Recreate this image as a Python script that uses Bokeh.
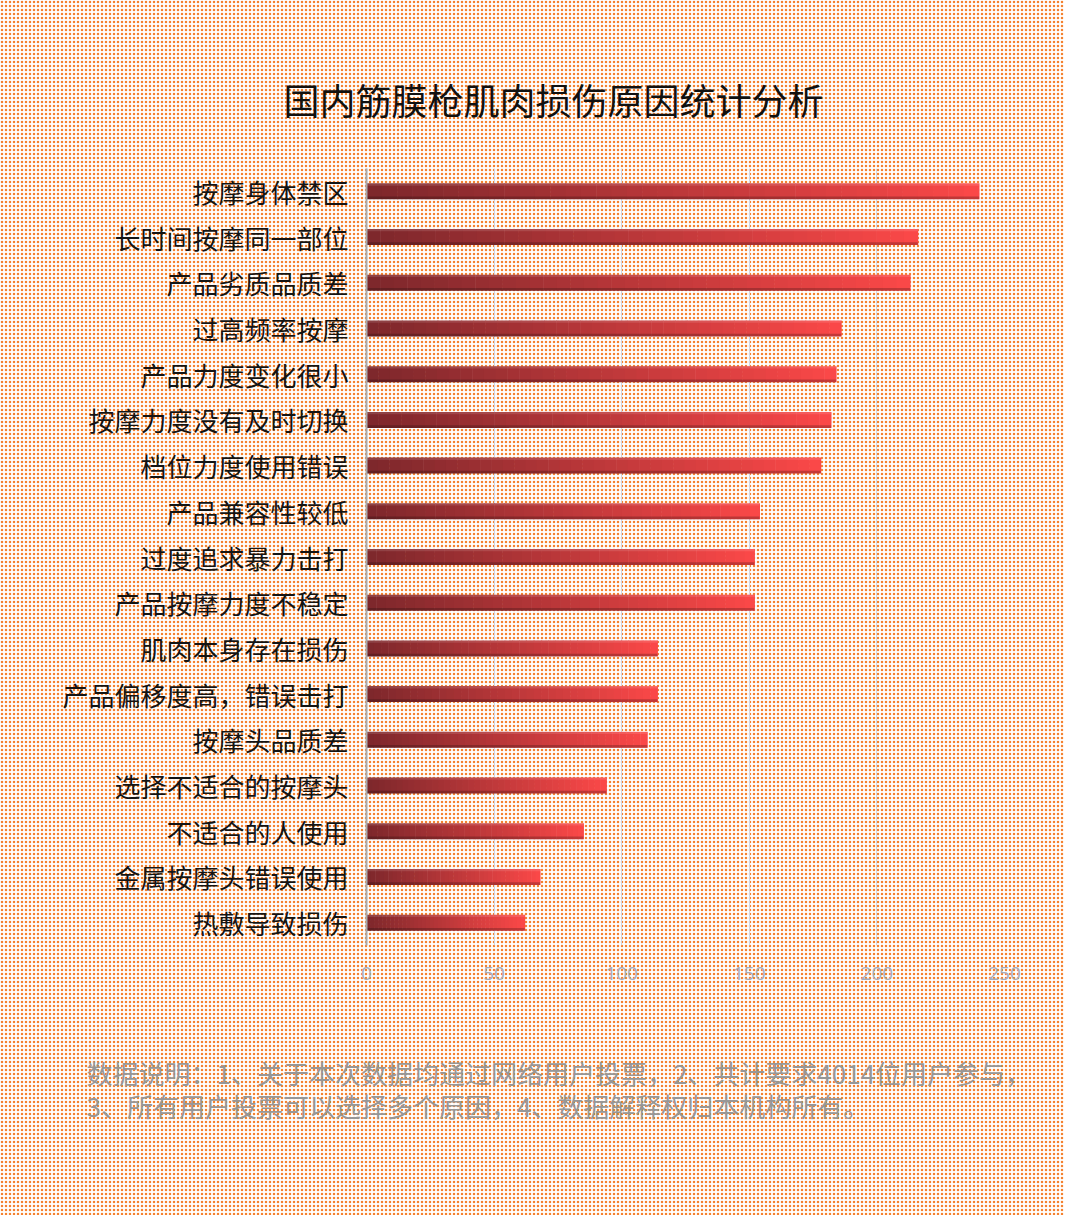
from bokeh.plotting import figure
from bokeh.models import FactorRange, Range1d, Title, FixedTicker, ColumnDataSource
from bokeh.transform import dodge
from bokeh.embed import file_html
from bokeh.resources import INLINE

causes = ["按摩身体禁区", "长时间按摩同一部位", "产品劣质品质差", "过高频率按摩", "产品力度变化很小",
          "按摩力度没有及时切换", "档位力度使用错误", "产品兼容性较低", "过度追求暴力击打",
          "产品按摩力度不稳定", "肌肉本身存在损伤", "产品偏移度高，错误击打", "按摩头品质差",
          "选择不适合的按摩头", "不适合的人使用", "金属按摩头错误使用", "热敷导致损伤"]
counts = [240, 216, 213, 186, 184, 182, 178, 154, 152, 152, 114, 114, 110, 94, 85, 68, 62]
x_ticks = [0, 50, 100, 150, 200, 250]

title_text = "国内筋膜枪肌肉损伤原因统计分析"
note_lines = ["数据说明：1、关于本次数据均通过网络用户投票，2、共计要求4014位用户参与，",
              "3、所有用户投票可以选择多个原因，4、数据解释权归本机构所有。"]

CJK = "Noto Sans CJK SC"

p = figure(width=1064, height=1215, output_backend="svg", toolbar_location=None,
           y_range=FactorRange(factors=causes[::-1]), x_range=Range1d(0, 250),
           min_border_left=366, min_border_right=60, min_border_top=168, min_border_bottom=270)

# dotted orange paper behind everything
p.background_fill_color = None
p.border_fill_color = None
p.outline_line_color = None
p.styles = {
    "background-color": "white",
    "background-image": "radial-gradient(circle at 2px 2px, #f4822f 0px, #f4822f 0.75px, rgba(244,130,47,0.3) 1.25px, rgba(255,255,255,0) 1.75px)",
    "background-size": "4px 4px",
}

# bars drawn as slices so the colour runs dark -> bright along each bar
steps = 40
dark = (126, 40, 44)
bright = (250, 72, 72)
seg_y, seg_l, seg_r, seg_c = [], [], [], []
for cause, n in zip(causes, counts):
    for i in range(steps):
        t = i / (steps - 1)
        r, g, b = [int(d + (e - d) * t) for d, e in zip(dark, bright)]
        seg_y.append(cause)
        seg_l.append(n * i / steps)
        seg_r.append(n * (i + 1) / steps + 0.2)
        seg_c.append("#%02x%02x%02x" % (r, g, b))
p.hbar(y=seg_y, left=seg_l, right=seg_r, height=0.35, fill_color=seg_c, line_color=None)

src = ColumnDataSource(dict(cause=causes, n=counts))
p.hbar(y=dodge("cause", -0.145, range=p.y_range), left=0, right="n", height=0.06, source=src,
       fill_color="black", fill_alpha=0.22, line_color=None)
p.hbar(y=dodge("cause", 0.15, range=p.y_range), left=0, right="n", height=0.05, source=src,
       fill_color="white", fill_alpha=0.12, line_color=None)

p.xaxis.ticker = FixedTicker(ticks=x_ticks)
p.xaxis.axis_line_color = None
p.xaxis.major_tick_line_color = None
p.xaxis.minor_tick_line_color = None
p.xaxis.major_label_text_font = "Open Sans"
p.xaxis.major_label_text_font_size = "19px"
p.xaxis.major_label_text_color = "#a4adbe"
p.xaxis.major_label_standoff = 15

p.yaxis.axis_line_color = "#a9a9a9"
p.yaxis.axis_line_width = 2
p.yaxis.major_tick_line_color = None
p.yaxis.minor_tick_line_color = None
p.yaxis.major_label_text_font = CJK
p.yaxis.major_label_text_font_size = "26px"
p.yaxis.major_label_text_color = "#141414"
p.yaxis.major_label_standoff = 12

p.xgrid.ticker = FixedTicker(ticks=x_ticks[1:])
p.xgrid.grid_line_color = "#cfd6e3"
p.xgrid.grid_line_width = 1
p.ygrid.grid_line_color = None

p.title.text = title_text
p.title.text_font = CJK
p.title.text_font_size = "36px"
p.title.text_font_style = "normal"
p.title.text_color = "#111111"
p.title.align = "left"
p.title.offset = -83
p.title.standoff = 88

p.add_layout(Title(text="\n".join(note_lines), text_font=CJK, text_font_size="26px",
                   text_font_style="normal", text_color="#979797", text_line_height=0.9,
                   align="left", offset=-280, standoff=139), "below")

open("out.html", "w").write(file_html(p, INLINE))
